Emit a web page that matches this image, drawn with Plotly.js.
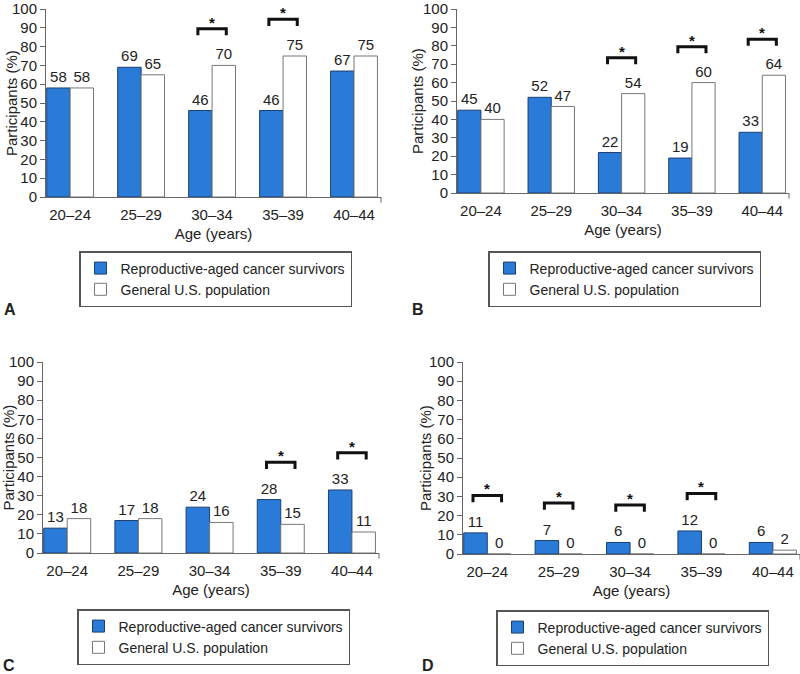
<!DOCTYPE html>
<html>
<head>
<meta charset="utf-8">
<script src="https://cdn.plot.ly/plotly-3.0.1.min.js"></script>
<style>html,body{margin:0;padding:0;background:#fff;}#chart{width:800px;height:674px;}</style>
</head>
<body>
<div id="chart"></div>
<script>
// ---- data ----
const ageGroups = ["20\u201324", "25\u201329", "30\u201334", "35\u201339", "40\u201344"];
const seriesNames = ["Reproductive-aged cancer survivors", "General U.S. population"];
const panelLetters = ["A", "B", "C", "D"];

const survivorsA = [58, 69, 46, 46, 67];
const generalA   = [58, 65, 70, 75, 75];
const survivorsB = [45, 52, 22, 19, 33];
const generalB   = [40, 47, 54, 60, 64];
const survivorsC = [13, 17, 24, 28, 33];
const generalC   = [18, 18, 16, 15, 11];
const survivorsD = [11, 7, 6, 12, 6];
const generalD   = [0, 0, 0, 0, 2];

// significant differences (index of age group)
const sigA = [2, 3];
const sigB = [2, 3, 4];
const sigC = [3, 4];
const sigD = [0, 1, 2, 3];

// ---- layout helpers (pixel positions of each panel) ----
const W = 800, H = 674;
const px = v => v / W;
const py = v => 1 - v / H;
const panels = [
  {s: survivorsA, g: generalA, sig: sigA, x0: 46, x1: 381, yTop: 9, yBot: 197, leg: [79, 251], letter: [2, 309], ytx: 11},
  {s: survivorsB, g: generalB, sig: sigB, x0: 457, x1: 789, yTop: 9, yBot: 193, leg: [488, 251], letter: [410, 309], ytx: 417},
  {s: survivorsC, g: generalC, sig: sigC, x0: 43, x1: 379, yTop: 362, yBot: 553, leg: [77, 609], letter: [1, 665], ytx: 8},
  {s: survivorsD, g: generalD, sig: sigD, x0: 463, x1: 800, yTop: 362, yBot: 554, leg: [496, 610], letter: [420, 665], ytx: 425}
];

const FONT = "Liberation Sans, Arial, Helvetica, sans-serif";
const BLUE = "#2a7bd8";
const xIdx = ageGroups.map((_, i) => i);

const data = [];
const layout = {
  width: W, height: H,
  margin: {l: 0, r: 0, t: 0, b: 0},
  paper_bgcolor: "#fff", plot_bgcolor: "#fff",
  barmode: "group", bargap: 0.34, bargroupgap: 0,
  font: {family: FONT, size: 15, color: "#222"},
  shapes: [], annotations: [], showlegend: true
};

panels.forEach((p, k) => {
  const n = k === 0 ? "" : String(k + 1);
  const xa = "x" + n, ya = "y" + n;
  const legKey = "legend" + n;
  [[p.s, BLUE, "#1d3f70", seriesNames[0]], [p.g, "#ffffff", "#777777", seriesNames[1]]].forEach(([vals, fill, line, name]) => {
    data.push({
      type: "bar", x: xIdx, y: vals, name: name,
      xaxis: xa, yaxis: ya, legend: legKey,
      marker: {color: fill, line: {color: line, width: 1}},
      text: vals.map(String), textposition: "outside", cliponaxis: false,
      textfont: {size: 15, color: "#222"},
      hoverinfo: "x+y"
    });
  });
  layout["xaxis" + n] = {
    domain: [px(p.x0), px(p.x1)], anchor: ya,
    range: [-0.34, 4.38], tickvals: xIdx, ticktext: ageGroups,
    showline: true, linecolor: "#666", linewidth: 1, ticks: "",
    ticklabelstandoff: 4,
    showgrid: false, zeroline: false, fixedrange: true,
    tickfont: {size: 15, color: "#222"},
    title: {text: "Age (years)", font: {size: 15, color: "#222"}, standoff: 6}
  };
  layout["yaxis" + n] = {
    domain: [py(p.yBot), py(p.yTop)], anchor: xa,
    range: [0, 100], dtick: 10, tick0: 0,
    showline: true, linecolor: "#666", linewidth: 1,
    ticks: "outside", ticklen: 5, tickcolor: "#666",
    ticklabeloverflow: "allow",
    showgrid: false, zeroline: false, fixedrange: true,
    tickfont: {size: 15, color: "#222"}
  };
  // end tick of x axis
  layout.shapes.push({
    type: "line", xref: xa + " domain", yref: ya + " domain",
    x0: 1, x1: 1, y0: 0, y1: -0.03, line: {color: "#666", width: 1}
  });
  // y axis title as annotation (precise placement)
  layout.annotations.push({
    xref: "paper", yref: "paper", x: px(p.ytx), y: py((p.yTop + p.yBot) / 2),
    text: "Participants (%)", textangle: -90, showarrow: false,
    xanchor: "center", yanchor: "middle", font: {size: 15, color: "#222"}
  });
  layout[legKey] = {
    x: px(p.leg[0]), y: py(p.leg[1]), xanchor: "left", yanchor: "top",
    bordercolor: "#555", borderwidth: 1.5, bgcolor: "#fff",
    font: {size: 14, color: "#222"}, itemwidth: 30, traceorder: "normal"
  };
  // panel letter
  layout.annotations.push({
    xref: "paper", yref: "paper", x: px(p.letter[0]), y: py(p.letter[1]),
    text: "<b>" + panelLetters[k] + "</b>", showarrow: false,
    xanchor: "left", yanchor: "middle", font: {size: 16, color: "#222"}
  });
  // significance brackets
  p.sig.forEach(i => {
    const top = Math.max(p.s[i], p.g[i]) + 19.5;
    layout.shapes.push({
      type: "path", xref: xa, yref: ya,
      path: `M ${i - 0.2} ${top - 3.5} L ${i - 0.2} ${top} L ${i + 0.2} ${top} L ${i + 0.2} ${top - 3.5}`,
      line: {color: "#111", width: 3}
    });
    layout.annotations.push({
      xref: xa, yref: ya, x: i, y: top + 3.5, text: "<b>*</b>", showarrow: false,
      xanchor: "center", yanchor: "middle", font: {size: 15, color: "#111"}
    });
  });
});

Plotly.newPlot("chart", data, layout, {displayModeBar: false, staticPlot: true});
</script>
</body>
</html>
